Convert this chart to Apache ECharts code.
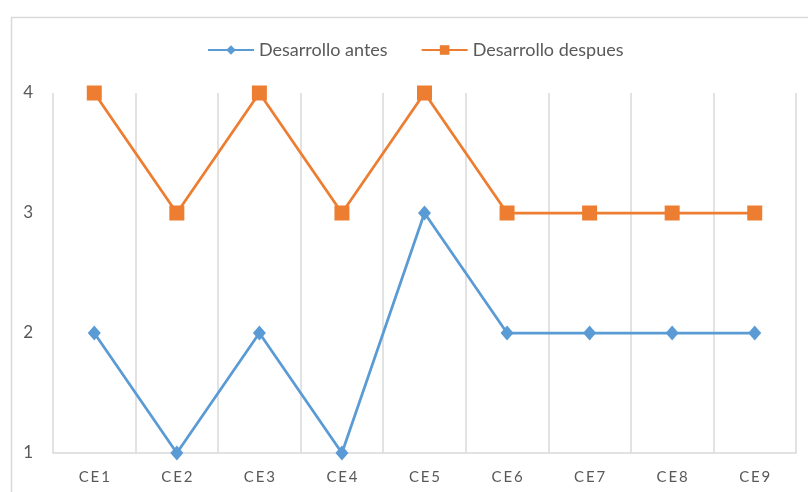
<!DOCTYPE html>
<html>
<head>
<meta charset="utf-8">
<script src="https://cdn.jsdelivr.net/npm/echarts@6/dist/echarts.min.js"></script>
<style>
html,body{margin:0;padding:0;background:#fff;}
#chart{width:808px;height:492px;}
</style>
</head>
<body>
<div id="chart"></div>
<script>
// Categories and series values
const categories = ['CE1','CE2','CE3','CE4','CE5','CE6','CE7','CE8','CE9'];
const antes = [2, 1, 2, 1, 3, 2, 2, 2, 2];
const despues = [4, 3, 4, 3, 4, 3, 3, 3, 3];
const seriesNames = ['Desarrollo antes', 'Desarrollo despues'];

const chart = echarts.init(document.getElementById('chart'));
const textColor = '#595959';
const gridColor = '#d9d9d9';
const font = 'Lato, "Open Sans", sans-serif';

chart.setOption({
  animation: false,
  backgroundColor: '#fff',
  graphic: [{
    type: 'rect',
    left: 9, top: 15,
    shape: { width: 830, height: 500 },
    style: { fill: 'none', stroke: '#d9d9d9', lineWidth: 1.5 },
    silent: true
  }],
  legend: {
    top: 36,
    left: 202,
    itemWidth: 46,
    itemHeight: 12,
    itemGap: 33,
    textStyle: { color: textColor, fontSize: 18, fontFamily: font },
    data: seriesNames
  },
  grid: { left: 53, right: 12, top: 93, bottom: 39, containLabel: false },
  xAxis: {
    type: 'category',
    data: categories,
    boundaryGap: true,
    axisLine: { show: true, lineStyle: { color: gridColor, width: 1.5 } },
    axisTick: { show: false },
    splitLine: { show: true, lineStyle: { color: gridColor, width: 1.5 } },
    axisLabel: {
      color: textColor, fontSize: 15, fontFamily: font, margin: 17,
      formatter: v => v.split('').join('\u2009')
    }
  },
  yAxis: {
    type: 'value',
    min: 1, max: 4, interval: 1,
    axisLine: { show: false },
    axisTick: { show: false },
    splitLine: { show: false },
    axisLabel: { color: textColor, fontSize: 17, fontFamily: font, margin: 20 }
  },
  series: [
    {
      name: seriesNames[0],
      type: 'line',
      data: antes,
      symbol: 'diamond',
      symbolSize: [13, 15],
      itemStyle: { color: '#5B9BD5' },
      lineStyle: { color: '#5B9BD5', width: 2.75 }
    },
    {
      name: seriesNames[1],
      type: 'line',
      data: despues,
      symbol: 'rect',
      symbolSize: 15,
      itemStyle: { color: '#ED7D31' },
      lineStyle: { color: '#ED7D31', width: 2.75 }
    }
  ]
});
</script>
</body>
</html>
